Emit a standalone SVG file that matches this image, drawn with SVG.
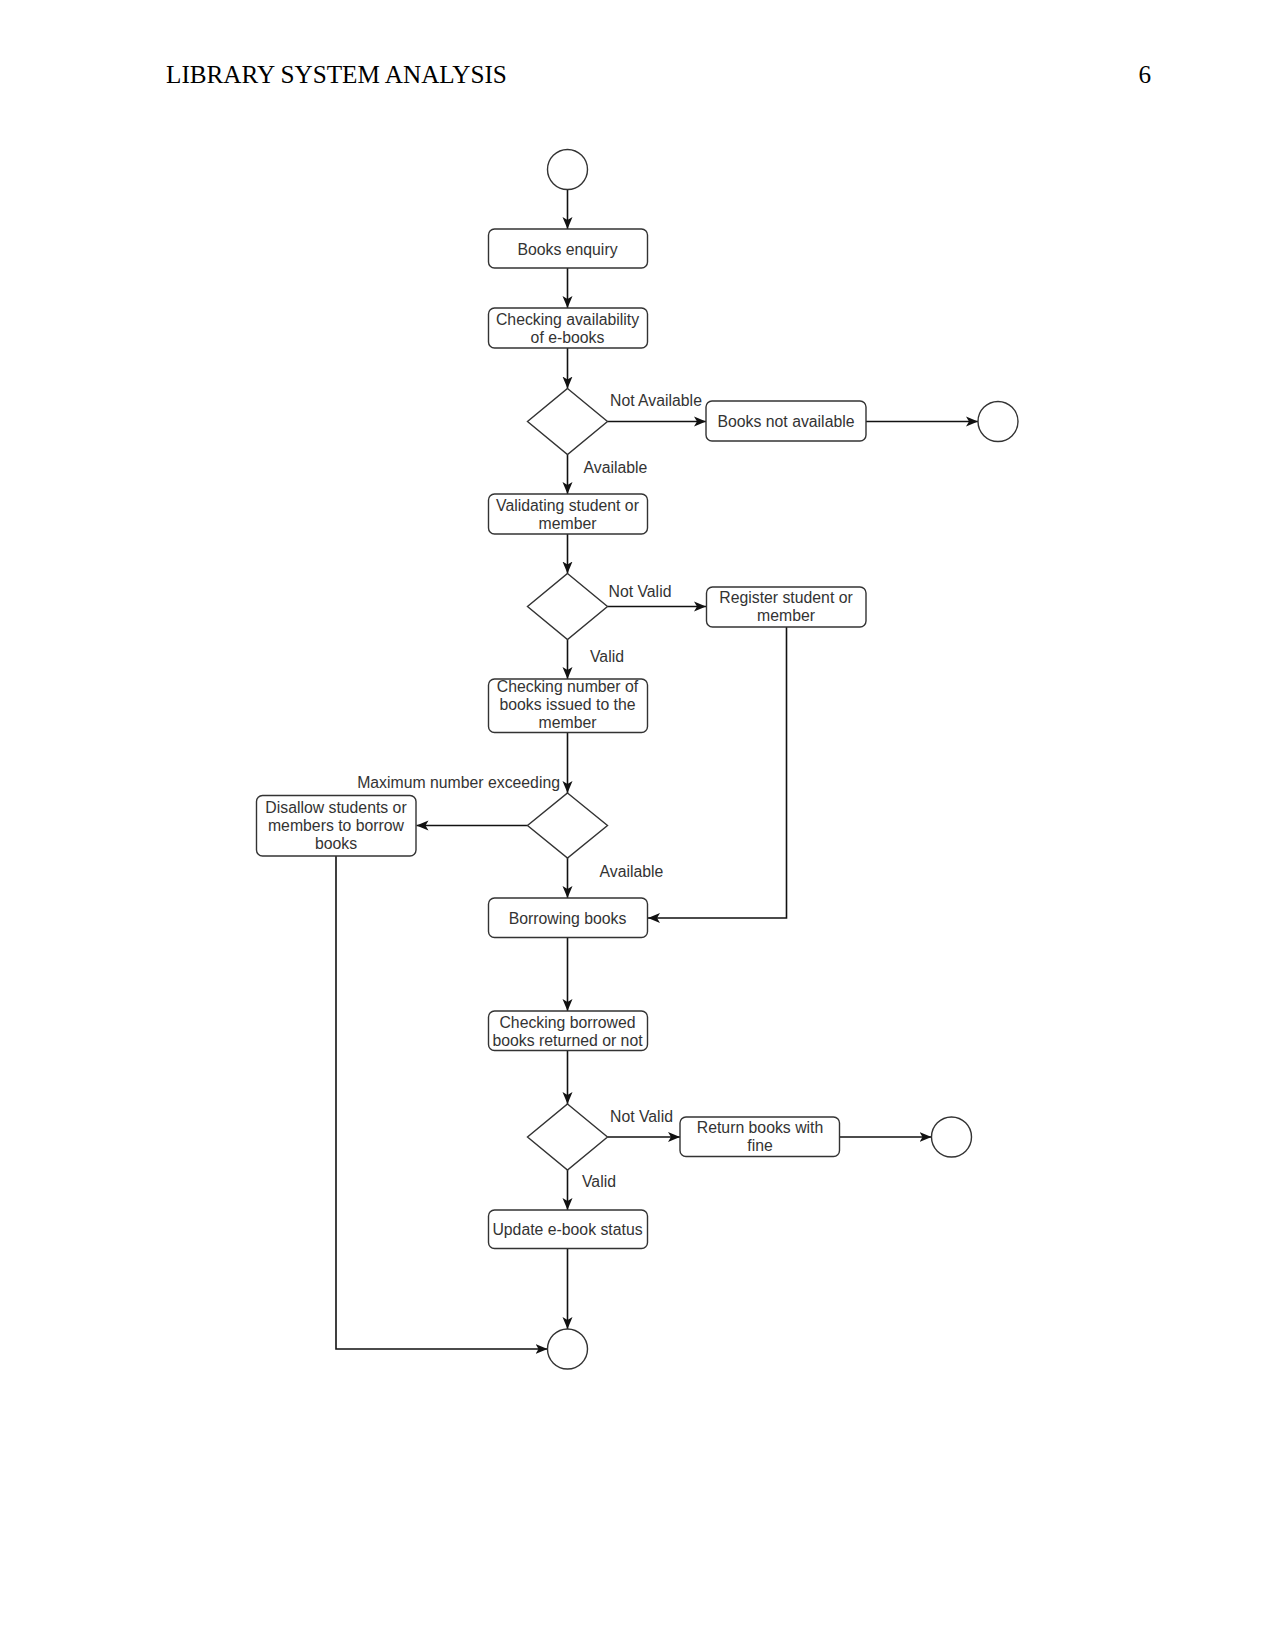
<svg xmlns="http://www.w3.org/2000/svg" width="1275" height="1650" viewBox="0 0 1275 1650">
<style>
.hdr{font-family:"Liberation Serif","Times New Roman",serif;font-size:25.2px;fill:#000}
.box{fill:#fff;stroke:#333;stroke-width:1.4}
.t{font-family:"Liberation Sans",Arial,sans-serif;font-size:15.8px;fill:#333;text-anchor:middle}
.lbl{font-family:"Liberation Sans",Arial,sans-serif;font-size:15.8px;fill:#333}
.ln{fill:none;stroke:#111;stroke-width:1.6}
</style>
<defs>
<marker id="arr" viewBox="0 0 12 12" refX="12" refY="6" markerWidth="12" markerHeight="12" markerUnits="userSpaceOnUse" orient="auto">
<path d="M0,1 L12,6 L0,11 L3,6 z" fill="#111"/>
</marker>
</defs>
<rect width="1275" height="1650" fill="#fff"/>
<g id="header">
<text class="hdr" x="166" y="83">LIBRARY SYSTEM ANALYSIS</text>
<text class="hdr" x="1151" y="83" text-anchor="end">6</text>
</g>
<g id="connectors">
<line class="ln" x1="567.5" y1="189.5" x2="567.5" y2="229" marker-end="url(#arr)"/>
<line class="ln" x1="567.5" y1="268" x2="567.5" y2="308" marker-end="url(#arr)"/>
<line class="ln" x1="567.5" y1="348" x2="567.5" y2="388.5" marker-end="url(#arr)"/>
<line class="ln" x1="607.5" y1="421.5" x2="706" y2="421.5" marker-end="url(#arr)"/>
<line class="ln" x1="866" y1="421.5" x2="978" y2="421.5" marker-end="url(#arr)"/>
<line class="ln" x1="567.5" y1="454.5" x2="567.5" y2="494" marker-end="url(#arr)"/>
<line class="ln" x1="567.5" y1="534" x2="567.5" y2="573.5" marker-end="url(#arr)"/>
<line class="ln" x1="607.5" y1="606.5" x2="706" y2="606.5" marker-end="url(#arr)"/>
<line class="ln" x1="567.5" y1="639.5" x2="567.5" y2="679" marker-end="url(#arr)"/>
<line class="ln" x1="567.5" y1="732.5" x2="567.5" y2="793" marker-end="url(#arr)"/>
<line class="ln" x1="527.5" y1="825.5" x2="416.5" y2="825.5" marker-end="url(#arr)"/>
<line class="ln" x1="567.5" y1="858" x2="567.5" y2="898" marker-end="url(#arr)"/>
<polyline class="ln" points="786.5,627 786.5,918 648,918" marker-end="url(#arr)"/>
<line class="ln" x1="567.5" y1="937.5" x2="567.5" y2="1011" marker-end="url(#arr)"/>
<line class="ln" x1="567.5" y1="1050.5" x2="567.5" y2="1104" marker-end="url(#arr)"/>
<line class="ln" x1="607.5" y1="1137" x2="680" y2="1137" marker-end="url(#arr)"/>
<line class="ln" x1="839.5" y1="1137" x2="931.5" y2="1137" marker-end="url(#arr)"/>
<line class="ln" x1="567.5" y1="1170" x2="567.5" y2="1210" marker-end="url(#arr)"/>
<line class="ln" x1="567.5" y1="1248.5" x2="567.5" y2="1329" marker-end="url(#arr)"/>
<polyline class="ln" points="336,856 336,1349 547.5,1349" marker-end="url(#arr)"/>
</g>
<g id="labels">
<text class="lbl" x="610" y="406">Not Available</text>
<text class="lbl" x="583.5" y="473">Available</text>
<text class="lbl" x="608.5" y="597">Not Valid</text>
<text class="lbl" x="590" y="661.5">Valid</text>
<text class="lbl" x="560" y="788" text-anchor="end">Maximum number exceeding</text>
<text class="lbl" x="599.5" y="876.5">Available</text>
<text class="lbl" x="610" y="1121.5">Not Valid</text>
<text class="lbl" x="582" y="1187">Valid</text>
</g>
<g id="start"><circle class="box" cx="567.5" cy="169.5" r="20"/></g>
<g id="books-enquiry"><rect class="box" x="488.5" y="229" width="159" height="39" rx="6"/><text class="t" x="567.5" y="254.5">Books enquiry</text></g>
<g id="checking-availability"><rect class="box" x="488.5" y="308" width="159" height="40" rx="6"/><text class="t" x="567.5" y="324.5">Checking availability</text><text class="t" x="567.5" y="342.5">of e-books</text></g>
<g id="decision-availability"><polygon class="box" points="567.5,388.5 607.5,421.5 567.5,454.5 527.5,421.5"/></g>
<g id="books-not-available"><rect class="box" x="706" y="401" width="160" height="40" rx="6"/><text class="t" x="786" y="427">Books not available</text></g>
<g id="end-not-available"><circle class="box" cx="998" cy="421.5" r="20"/></g>
<g id="validating"><rect class="box" x="488.5" y="494" width="159" height="40" rx="6"/><text class="t" x="567.5" y="510.5">Validating student or</text><text class="t" x="567.5" y="528.5">member</text></g>
<g id="decision-valid"><polygon class="box" points="567.5,573.5 607.5,606.5 567.5,639.5 527.5,606.5"/></g>
<g id="register"><rect class="box" x="706.5" y="587" width="159.5" height="40" rx="6"/><text class="t" x="786" y="603">Register student or</text><text class="t" x="786" y="621">member</text></g>
<g id="checking-number"><rect class="box" x="488.5" y="679" width="159" height="53.5" rx="6"/><text class="t" x="567.5" y="692">Checking number of</text><text class="t" x="567.5" y="710">books issued to the</text><text class="t" x="567.5" y="728">member</text></g>
<g id="decision-max"><polygon class="box" points="567.5,793 607.5,825.5 567.5,858 527.5,825.5"/></g>
<g id="disallow"><rect class="box" x="256.5" y="795.5" width="159.5" height="60.5" rx="6"/><text class="t" x="336" y="812.5">Disallow students or</text><text class="t" x="336" y="830.5">members to borrow</text><text class="t" x="336" y="848.5">books</text></g>
<g id="borrowing"><rect class="box" x="488.5" y="898" width="159" height="39.5" rx="6"/><text class="t" x="567.5" y="923.5">Borrowing books</text></g>
<g id="checking-returned"><rect class="box" x="488.5" y="1011" width="159" height="39.5" rx="6"/><text class="t" x="567.5" y="1027.5">Checking borrowed</text><text class="t" x="567.5" y="1045.5">books returned or not</text></g>
<g id="decision-returned"><polygon class="box" points="567.5,1104 607.5,1137 567.5,1170 527.5,1137"/></g>
<g id="return-fine"><rect class="box" x="680" y="1117" width="159.5" height="39.5" rx="6"/><text class="t" x="760" y="1133">Return books with</text><text class="t" x="760" y="1151">fine</text></g>
<g id="end-fine"><circle class="box" cx="951.5" cy="1137" r="20"/></g>
<g id="update-status"><rect class="box" x="488.5" y="1210" width="159" height="38.5" rx="6"/><text class="t" x="567.5" y="1235">Update e-book status</text></g>
<g id="end"><circle class="box" cx="567.5" cy="1349" r="20"/></g>
</svg>
